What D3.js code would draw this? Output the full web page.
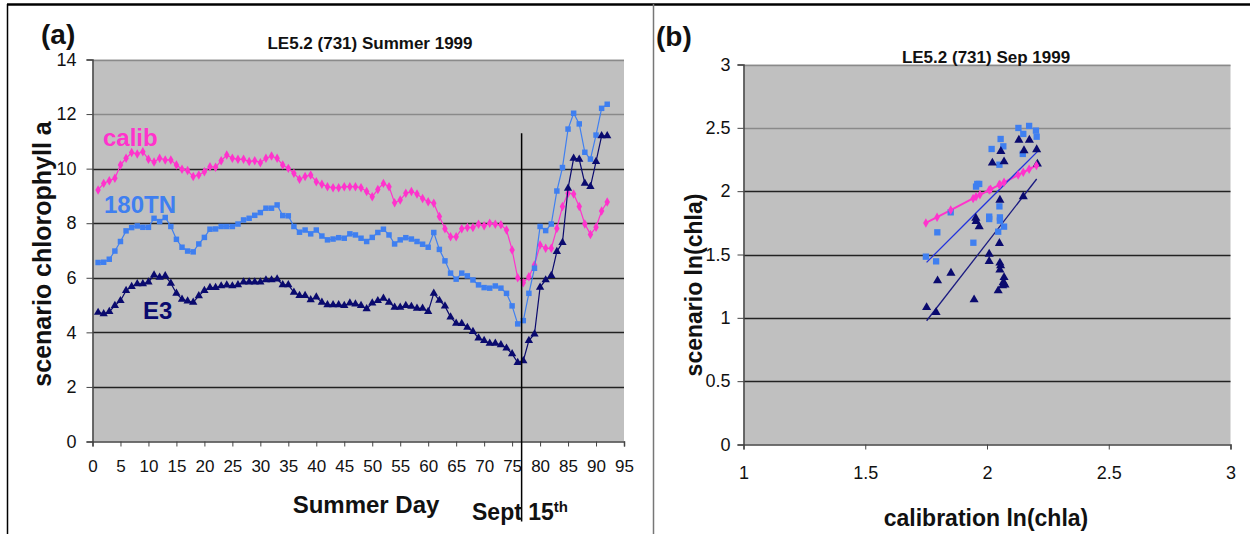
<!DOCTYPE html>
<html><head><meta charset="utf-8">
<script src="https://cdn.jsdelivr.net/npm/d3@7"></script>
<style>
body{margin:0;background:#fff;}
text{font-family:"Liberation Sans",Arial,sans-serif;}
</style>
</head><body>
<svg id="c" width="1250" height="534"></svg>
<script>
// ---------- DATA ----------
const days = d3.range(1, 93);
const calib = [9.22,9.46,9.56,9.65,10.13,10.38,10.59,10.54,10.62,10.34,10.24,10.38,10.32,10.32,10.13,9.98,9.93,9.71,9.77,9.89,10.07,10.05,10.29,10.5,10.38,10.34,10.34,10.26,10.29,10.22,10.38,10.46,10.38,
 10.13,10.01,9.83,9.61,9.71,9.77,9.52,9.43,9.34,9.30,9.30,9.34,9.34,9.34,9.30,9.16,8.97,9.24,9.46,9.34,8.75,8.85,9.10,9.16,9.07,8.91,8.79,8.73,
 8.25,7.8,7.5,7.5,7.8,7.84,7.84,7.96,7.91,8.0,7.96,7.94,7.75,7.02,6.0,5.82,6.04,6.47,7.2,7.08,7.08,7.81,8.61,9.1,9.07,8.61,7.97,7.59,7.85,8.45,8.78];
const tn180 = [6.56,6.57,6.68,6.98,7.33,7.72,7.84,7.90,7.85,7.85,8.18,8.06,8.21,7.88,7.41,7.12,6.98,6.95,7.24,7.48,7.78,7.79,7.88,7.88,7.88,7.97,8.12,8.18,8.29,8.39,8.55,8.55,8.67,
 8.28,8.27,7.88,7.67,7.75,7.61,7.75,7.53,7.39,7.42,7.47,7.45,7.61,7.57,7.45,7.33,7.48,7.66,7.78,7.57,7.24,7.39,7.47,7.42,7.33,7.23,7.12,7.66,
 7.04,6.62,6.17,5.95,6.17,6.07,5.92,5.74,5.64,5.62,5.70,5.62,5.43,4.97,4.31,4.43,5.43,6.35,7.88,7.73,7.97,9.18,10.04,11.45,12.03,11.64,10.6,10.35,11.23,12.21,12.36];
const e3 = [4.73,4.68,4.76,4.98,5.16,5.53,5.68,5.78,5.78,5.84,6.10,6.02,6.07,5.80,5.43,5.21,5.15,5.10,5.34,5.53,5.64,5.64,5.70,5.73,5.70,5.74,5.84,5.84,5.84,5.84,5.92,5.92,5.95,
 5.74,5.74,5.47,5.35,5.35,5.19,5.29,5.10,5.01,5.01,5.01,4.98,5.07,5.04,4.98,4.86,5.07,5.16,5.25,5.10,4.92,4.92,4.98,4.95,4.88,4.88,4.76,5.43,
 5.17,4.96,4.56,4.33,4.32,4.18,4.03,3.79,3.70,3.60,3.60,3.54,3.42,3.21,2.89,2.96,3.70,3.94,5.65,5.92,6.08,6.96,7.29,9.28,10.38,10.34,9.46,9.34,10.26,11.2,11.2];
const leftYTicks = [0,2,4,6,8,10,12,14];
const leftXTicks = [0,5,10,15,20,25,30,35,40,45,50,55,60,65,70,75,80,85,90,95];
const septDay = 76.7, septTop = 11.3;

// scatter (b)
const calibX = [1.749,1.795,1.851,1.943,1.955,1.971,2.009,2.015,2.050,2.053,2.070,2.128,2.149,2.173,2.203];
const calibY = [1.749,1.795,1.851,1.943,1.955,1.971,2.009,2.015,2.050,2.053,2.070,2.128,2.149,2.173,2.203];
const tnX = [2.129,2.173,2.201,2.149,2.204,2.056,2.067,2.019,2.147,2.051,1.960,1.968,1.955,1.851,2.051,2.009,2.009,2.053,2.053,2.070,1.796,2.046,1.944,1.749,1.791];
const tnY = [2.499,2.515,2.478,2.452,2.430,2.412,2.354,2.333,2.294,2.209,2.057,2.057,2.036,1.833,1.880,1.799,1.780,1.793,1.767,1.720,1.675,1.680,1.593,1.483,1.446];
const e3X = [2.131,2.174,2.152,2.204,2.057,2.022,2.070,2.207,2.149,2.053,1.954,1.955,1.968,2.051,2.009,2.009,2.053,2.056,2.053,2.070,2.067,2.074,2.064,2.046,1.852,1.797,1.947,1.752,1.791];
const e3Y = [2.404,2.404,2.320,2.328,2.315,2.223,2.233,2.215,1.957,1.930,1.788,1.762,1.720,1.588,1.504,1.446,1.433,1.412,1.378,1.319,1.280,1.261,1.254,1.214,1.354,1.293,1.143,1.082,1.043];
const tnTrendX = [1.752, 2.208], tnTrendY = [1.438, 2.314];
const e3TrendX = [1.752, 2.204], e3TrendY = [0.977, 2.096];
const rightYTicks = [0,0.5,1,1.5,2,2.5,3];
const rightXTicks = [1,1.5,2,2.5,3];

// ---------- STYLE ----------
const C_MAG = "#ff33cc", C_BLUE = "#3f7ff0", C_NAVY = "#0a0a6e";
const C_BG = "#c0c0c0";

const svg = d3.select("#c");

// frame
svg.append("line").attr("x1",7).attr("x2",1250).attr("y1",4.5).attr("y2",4.5).attr("stroke","#000").attr("stroke-width",2.5);
svg.append("line").attr("x1",7.5).attr("x2",7.5).attr("y1",4).attr("y2",534).attr("stroke","#000").attr("stroke-width",1.5);
svg.append("line").attr("x1",653.5).attr("x2",653.5).attr("y1",4).attr("y2",534).attr("stroke","#777").attr("stroke-width",1.5);

function markerPath(type, size){
  const sym = type==="square"?d3.symbolSquare:type==="triangle"?d3.symbolTriangle:d3.symbolDiamond;
  return d3.symbol().type(sym).size(size)();
}

// ---------- PANEL A ----------
const xA = d3.scaleLinear().domain([0,95]).range([92.5,624]);
const yA = d3.scaleLinear().domain([0,14]).range([441.5,59.5]);
const gA = svg.append("g");
gA.append("rect").attr("x",xA(0)).attr("y",yA(14)).attr("width",xA(95)-xA(0)).attr("height",yA(0)-yA(14)).attr("fill",C_BG);
gA.selectAll(".gl").data(leftYTicks.filter(d=>d>0)).join("line")
  .attr("x1",xA(0)).attr("x2",xA(95)).attr("y1",d=>Math.round(yA(d))+0.5).attr("y2",d=>Math.round(yA(d))+0.5)
  .attr("stroke",d=>d>=12?"#8a8a8a":"#222").attr("stroke-width",1.5);
const axYA = gA.append("g").attr("transform",`translate(${xA(0)},0)`).call(d3.axisLeft(yA).tickValues(leftYTicks).tickSize(6).tickPadding(10).tickFormat(d3.format("d")));
const axXA = gA.append("g").attr("transform",`translate(0,${yA(0)})`).call(d3.axisBottom(xA).tickValues(leftXTicks).tickSize(5).tickPadding(13).tickFormat(d3.format("d")));
[axYA,axXA].forEach(a=>{
  a.select(".domain").attr("stroke","#444").attr("stroke-width",1.5);
  a.selectAll(".tick line").attr("stroke","#444");
  a.selectAll("text").style("font-size","17px").attr("fill","#111").style("font-family","Liberation Sans, Arial, sans-serif");
});
axYA.selectAll("text").style("font-size","18px");

const seriesA = [
  {vals: calib, color: C_MAG, shape:"diamond", size:26},
  {vals: tn180, color: C_BLUE, shape:"square", size:30},
  {vals: e3, color: C_NAVY, shape:"triangle", size:30}
];
const lineA = d3.line().x((d,i)=>xA(days[i])).y(d=>yA(d));
seriesA.forEach(s=>{
  gA.append("path").datum(s.vals).attr("d",lineA).attr("fill","none").attr("stroke",s.color).attr("stroke-width",1.2);
  gA.append("g").selectAll("path").data(s.vals).join("path")
    .attr("d",markerPath(s.shape,s.size))
    .attr("transform",(d,i)=>`translate(${xA(days[i])},${yA(d)})`)
    .attr("fill",s.color);
});

gA.append("line").attr("x1",xA(septDay)).attr("x2",xA(septDay)).attr("y1",yA(septTop)).attr("y2",yA(0)+80)
  .attr("stroke","#000").attr("stroke-width",1.5);

gA.append("text").attr("x",103).attr("y",146).attr("fill",C_MAG).attr("font-size",24).attr("font-weight","bold").text("calib");
gA.append("text").attr("x",104).attr("y",213).attr("fill",C_BLUE).attr("font-size",24).attr("font-weight","bold").text("180TN");
gA.append("text").attr("x",143).attr("y",319).attr("fill",C_NAVY).attr("font-size",24).attr("font-weight","bold").text("E3");

gA.append("text").attr("x",41).attr("y",44).attr("font-size",28).attr("font-weight","bold").attr("fill","#111").text("(a)");
gA.append("text").attr("x",370).attr("y",49).attr("text-anchor","middle").attr("font-size",17).attr("font-weight","bold").attr("fill","#111").text("LE5.2 (731) Summer 1999");
gA.append("text").attr("transform","translate(51,254) rotate(-90)").attr("text-anchor","middle").attr("font-size",25).attr("font-weight","bold").attr("fill","#111").text("scenario chlorophyll a");
gA.append("text").attr("x",366).attr("y",513).attr("text-anchor","middle").attr("font-size",24).attr("font-weight","bold").attr("fill","#111").text("Summer Day");
const st = gA.append("text").attr("x",472).attr("y",520).attr("font-size",23).attr("font-weight","bold").attr("fill","#111");
st.append("tspan").text("Sept 15");
st.append("tspan").attr("dy",-8).attr("font-size",15).text("th");

// ---------- PANEL B ----------
const xB = d3.scaleLinear().domain([1,3]).range([743.5,1230.5]);
const yB = d3.scaleLinear().domain([0,3]).range([444.5,64.5]);
const gB = svg.append("g");
gB.append("rect").attr("x",xB(1)).attr("y",yB(3)).attr("width",xB(3)-xB(1)).attr("height",yB(0)-yB(3)).attr("fill",C_BG);
gB.selectAll(".gl").data(rightYTicks.filter(d=>d>0)).join("line")
  .attr("x1",xB(1)).attr("x2",xB(3)).attr("y1",d=>Math.round(yB(d))+0.5).attr("y2",d=>Math.round(yB(d))+0.5)
  .attr("stroke",d=>d>=2.5?"#8a8a8a":"#222").attr("stroke-width",1.5);
const axYB = gB.append("g").attr("transform",`translate(${xB(1)},0)`).call(d3.axisLeft(yB).tickValues(rightYTicks).tickSize(6).tickPadding(7).tickFormat(d=>String(d)));
const axXB = gB.append("g").attr("transform",`translate(0,${yB(0)})`).call(d3.axisBottom(xB).tickValues(rightXTicks).tickSize(5).tickPadding(17).tickFormat(d=>String(d)));
[axYB,axXB].forEach(a=>{
  a.select(".domain").attr("stroke","#444").attr("stroke-width",1.5);
  a.selectAll(".tick line").attr("stroke","#444");
  a.selectAll("text").style("font-size","18px").attr("fill","#111").style("font-family","Liberation Sans, Arial, sans-serif");
});

const lnB = d3.line().x(d=>xB(d[0])).y(d=>yB(d[1]));
gB.append("path").datum(calibX.map((x,i)=>[x,calibY[i]])).attr("d",lnB).attr("fill","none").attr("stroke",C_MAG).attr("stroke-width",2);
gB.append("path").datum(tnTrendX.map((x,i)=>[x,tnTrendY[i]])).attr("d",lnB).attr("fill","none").attr("stroke","#2233dd").attr("stroke-width",1.3);
gB.append("path").datum(e3TrendX.map((x,i)=>[x,e3TrendY[i]])).attr("d",lnB).attr("fill","none").attr("stroke","#1a1a80").attr("stroke-width",1.3);

gB.append("g").selectAll("path").data(tnX.map((x,i)=>[x,tnY[i]])).join("path")
  .attr("d",markerPath("square",40)).attr("transform",d=>`translate(${xB(d[0])},${yB(d[1])})`).attr("fill",C_BLUE);
gB.append("g").selectAll("path").data(e3X.map((x,i)=>[x,e3Y[i]])).join("path")
  .attr("d",markerPath("triangle",36)).attr("transform",d=>`translate(${xB(d[0])},${yB(d[1])})`).attr("fill",C_NAVY);
gB.append("g").selectAll("path").data(calibX.map((x,i)=>[x,calibY[i]])).join("path")
  .attr("d",markerPath("diamond",26)).attr("transform",d=>`translate(${xB(d[0])},${yB(d[1])})`).attr("fill",C_MAG);

gB.append("text").attr("x",656).attr("y",46).attr("font-size",28).attr("font-weight","bold").attr("fill","#111").text("(b)");
gB.append("text").attr("x",986).attr("y",63).attr("text-anchor","middle").attr("font-size",17).attr("font-weight","bold").attr("fill","#111").text("LE5.2 (731) Sep 1999");
gB.append("text").attr("transform","translate(702,285) rotate(-90)").attr("text-anchor","middle").attr("font-size",23).attr("font-weight","bold").attr("fill","#111").text("scenario ln(chla)");
gB.append("text").attr("x",986).attr("y",526).attr("text-anchor","middle").attr("font-size",23).attr("font-weight","bold").attr("fill","#111").text("calibration ln(chla)");
</script>
</body></html>
